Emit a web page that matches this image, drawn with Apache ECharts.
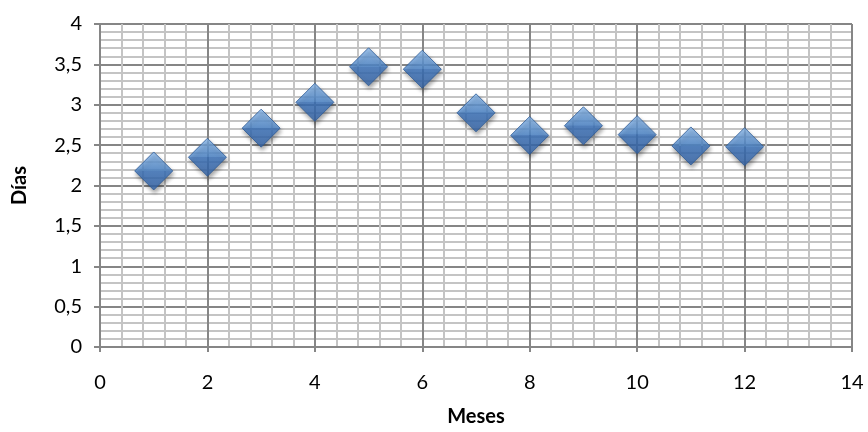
<!DOCTYPE html>
<html><head><meta charset="utf-8">
<script src="https://cdn.jsdelivr.net/npm/echarts@6/dist/echarts.min.js"></script>
<style>html,body{margin:0;padding:0;background:#fff}#c{width:868px;height:432px}</style>
</head><body><div id="c"></div>
<script>
const meses = [1,2,3,4,5,6,7,8,9,10,11,12];
const dias = [2.18,2.35,2.71,3.03,3.47,3.44,2.90,2.62,2.74,2.63,2.49,2.48];
const xTitle = 'Meses';
const yTitle = 'Días';

const chart = echarts.init(document.getElementById('c'));
const font = 'Lato, "Open Sans", sans-serif';
const fmt = v => String(v).replace('.', ',');
chart.setOption({
  animation:false,
  grid:{left:100,right:16,top:24,bottom:85,containLabel:false,outerBoundsMode:'none'},
  xAxis:{type:'value',min:0,max:14,interval:2,
    name:xTitle,nameLocation:'middle',nameGap:60,
    nameTextStyle:{fontFamily:font,fontSize:20,fontWeight:'bold',color:'#000'},
    axisLine:{show:true,lineStyle:{color:'#868686',width:2}},
    axisTick:{show:true,length:5,lineStyle:{color:'#868686',width:2}},
    axisLabel:{fontFamily:font,fontSize:20,color:'#000',margin:26,formatter:fmt},
    splitLine:{show:true,lineStyle:{color:'#868686',width:2}},
    minorTick:{show:false,splitNumber:5},
    minorSplitLine:{show:true,lineStyle:{color:'#c4c4c4',width:2}}
  },
  yAxis:{type:'value',min:0,max:4,interval:0.5,
    name:yTitle,nameLocation:'middle',nameGap:70,nameRotate:90,
    nameTextStyle:{fontFamily:font,fontSize:20,fontWeight:'bold',color:'#000'},
    axisLine:{show:true,lineStyle:{color:'#868686',width:2}},
    axisTick:{show:true,length:6,lineStyle:{color:'#868686',width:2}},
    axisLabel:{fontFamily:font,fontSize:20,color:'#000',margin:18,formatter:fmt},
    splitLine:{show:true,lineStyle:{color:'#868686',width:2}},
    minorTick:{show:false,splitNumber:5},
    minorSplitLine:{show:true,lineStyle:{color:'#c4c4c4',width:2}}
  },
  series:[{type:'scatter',symbol:'diamond',symbolSize:[38,38],
    data:meses.map((m,i)=>[m,dias[i]]),
    itemStyle:{
      color:new echarts.graphic.LinearGradient(0,0,0,1,[
        {offset:0,color:'#8cbcf0'},{offset:0.49,color:'#4f8ad0'},
        {offset:0.5,color:'#3d76c0'},{offset:1,color:'#3565aa'}]),
      borderColor:'#2c5a96',borderWidth:1,
      shadowColor:'rgba(0,0,0,0.45)',shadowBlur:4,shadowOffsetX:1,shadowOffsetY:3
    }
  }]
});
</script></body></html>
